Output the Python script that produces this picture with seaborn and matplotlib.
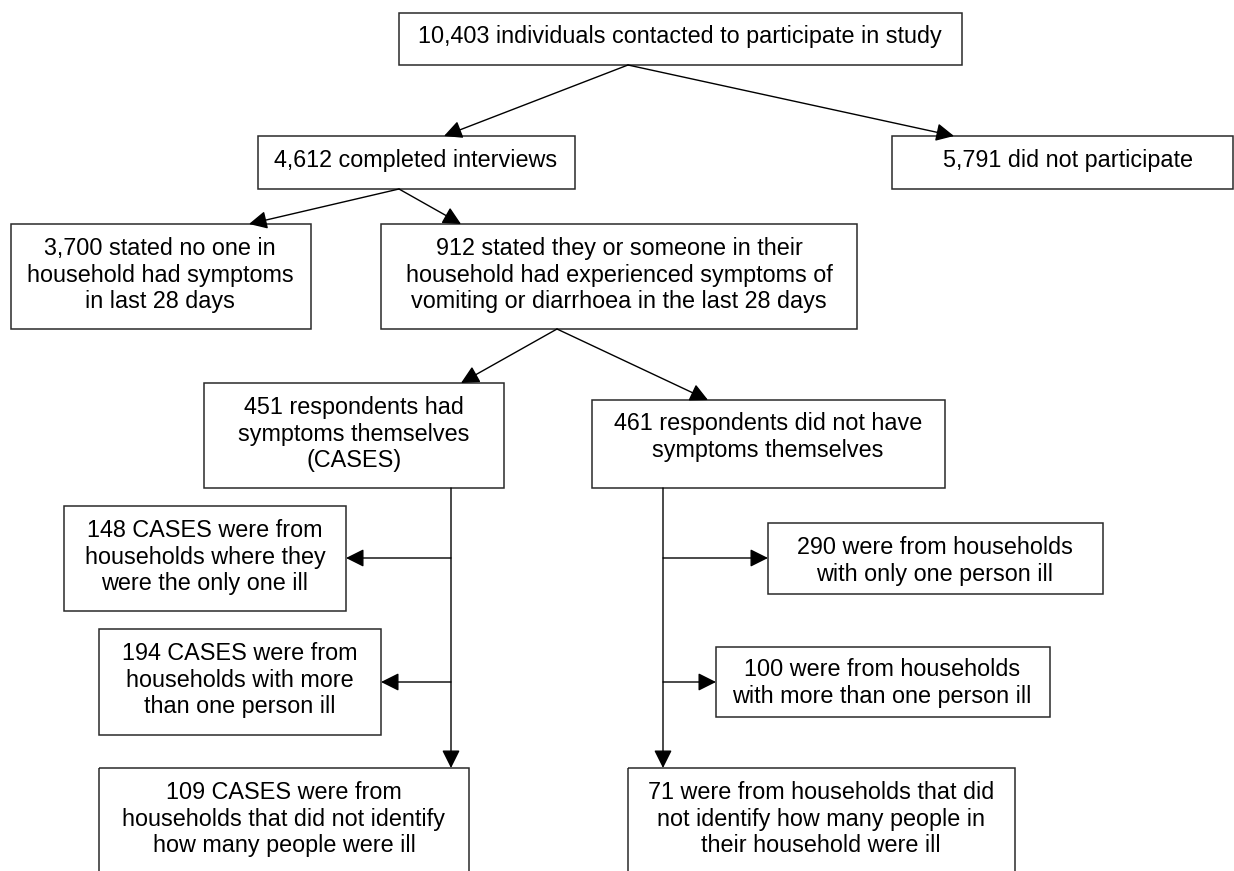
import matplotlib
matplotlib.use("Agg")
import matplotlib.pyplot as plt
from matplotlib.patches import Rectangle
import seaborn as sns

# counts shown in each box of the flow chart
counts = [10403, 4612, 5791, 3700, 912, 451, 461, 148, 290, 194, 100, 109, 71]

# wording that follows the count in each box (line breaks as in the original)
wording = [
    "individuals contacted to participate in study",
    "completed interviews",
    "did not participate",
    "stated no one in\nhousehold had symptoms\nin last 28 days",
    "stated they or someone in their\nhousehold had experienced symptoms of\nvomiting or diarrhoea in the last 28 days",
    "respondents had\nsymptoms themselves\n(CASES)",
    "respondents did not have\nsymptoms themselves",
    "CASES were from\nhouseholds where they\nwere the only one ill",
    "were from households\nwith only one person ill",
    "CASES were from\nhouseholds with more\nthan one person ill",
    "were from households\nwith more than one person ill",
    "CASES were from\nhouseholds that did not identify\nhow many people were ill",
    "were from households that did\nnot identify how many people in\ntheir household were ill",
]

# ---- layout (pixel space, y down) ----
# box rectangles: x0, x1, y0, y1
boxes = [
    (399, 962, 13, 65),
    (258, 575, 136, 189),
    (892, 1233, 136, 189),
    (11, 311, 224, 329),
    (381, 857, 224, 329),
    (204, 504, 383, 488),
    (592, 945, 400, 488),
    (64, 346, 506, 611),
    (768, 1103, 523, 594),
    (99, 381, 629, 735),
    (716, 1050, 647, 717),
    (99, 469, 768, 890),
    (628, 1015, 768, 890),
]
# text centres
text_pos = [
    (680, 36), (416, 160), (1068, 160), (160, 275), (619, 275),
    (354, 434), (768, 437), (205, 557), (935, 561), (240, 680),
    (882, 683), (284, 819), (821, 819),
]
# arrows: start -> tip
arrows = [
    ((628, 65), (444, 136)),
    ((628, 65), (954, 136)),
    ((399, 189), (249, 224)),
    ((399, 189), (461, 224)),
    ((557, 329), (461, 383)),
    ((557, 329), (708, 400)),
    ((451, 488), (451, 768)),
    ((451, 558), (346, 558)),
    ((451, 682), (381, 682)),
    ((663, 488), (663, 768)),
    ((663, 558), (768, 558)),
    ((663, 682), (716, 682)),
]

sns.set_style("white")
plt.rcParams['font.family'] = ['Liberation Sans', 'DejaVu Sans']

fig = plt.figure(figsize=(12.34, 8.71), dpi=100)
ax = fig.add_axes([0, 0, 1, 1])
ax.set_xlim(0, 1234)
ax.set_ylim(871, 0)
ax.axis('off')

labels = [f"{n:,} {w}" for n, w in zip(counts, wording)]

for (x0, x1, y0, y1), (tx, ty), lab in zip(boxes, text_pos, labels):
    ax.add_patch(Rectangle((x0, y0), x1 - x0, y1 - y0, fill=False,
                           edgecolor='#2a2a2a', lw=1.1))
    ax.text(tx, ty, lab, ha='center', va='center', fontsize=16.8,
            linespacing=1.2, color='black', multialignment='center')

for (sx, sy), (ex, ey) in arrows:
    ax.annotate('', xy=(ex, ey), xytext=(sx, sy),
                arrowprops=dict(arrowstyle='-|>,head_length=1.0,head_width=0.5',
                                mutation_scale=11, shrinkA=0, shrinkB=0,
                                lw=1.0, color='black'))

plt.savefig('out.png', dpi=100)
